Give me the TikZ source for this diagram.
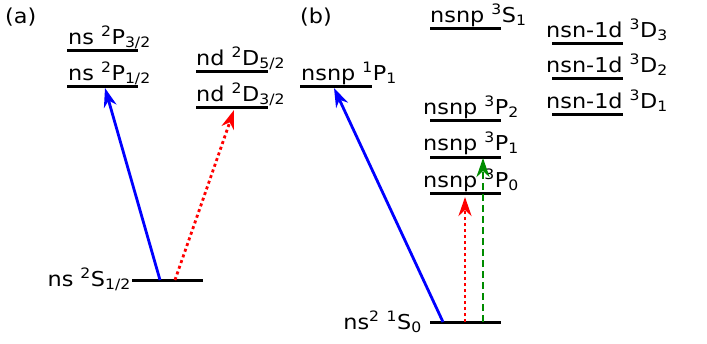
\documentclass[tikz,border=0pt]{standalone}
\usepackage{fontspec}
\setmainfont[FakeStretch=1.09]{DejaVu Sans}
\usetikzlibrary{arrows.meta}
\newcommand{\myup}[1]{\textsuperscript{#1}}
\newcommand{\mydn}[1]{\textsubscript{#1}}
\begin{document}
\begin{tikzpicture}[x=1bp,y=-1bp,
  lvl/.style={line width=3bp,black},
  lab/.style={anchor=base west,inner sep=0pt,font=\fontsize{20.5bp}{22bp}\selectfont},
  labr/.style={anchor=base east,inner sep=0pt,font=\fontsize{20.5bp}{22bp}\selectfont},
  tip/.style={-{Stealth[length=19bp,width=13bp,inset=6bp]}},
  bluearr/.style={tip,blue,line width=2.8bp},
  redarr/.style={tip,red,line width=2.8bp,dash pattern=on 3bp off 3bp},
  greenarr/.style={tip,green!55!black,line width=2.8bp,dash pattern=on 7bp off 4bp}]
\useasboundingbox (0,0) rectangle (707,343);
% (a)
\node[lab] (pa) at (5,23) {(a)};
\coordinate (p32l) at (67,50); \coordinate (p32r) at (138,50);
\coordinate (p12l) at (67,86); \coordinate (p12r) at (138,86);
\coordinate (d52l) at (196,71); \coordinate (d52r) at (268,71);
\coordinate (d32l) at (196,107); \coordinate (d32r) at (268,107);
\coordinate (s12l) at (132,280); \coordinate (s12r) at (203,280);
\draw[lvl] (p32l) -- (p32r);
\draw[lvl] (p12l) -- (p12r);
\draw[lvl] (d52l) -- (d52r);
\draw[lvl] (d32l) -- (d32r);
\draw[lvl] (s12l) -- (s12r);
\node[lab] (tp32) at (68,44) {ns \myup{2}P\mydn{3/2}};
\node[lab] (tp12) at (68,80) {ns \myup{2}P\mydn{1/2}};
\node[lab] (td52) at (196,65) {nd \myup{2}D\mydn{5/2}};
\node[lab] (td32) at (196,101) {nd \myup{2}D\mydn{3/2}};
\node[labr] (ts12) at (131,286) {ns \myup{2}S\mydn{1/2}};
\coordinate (ba0) at (160,280); \coordinate (ba1) at (105,88);
\coordinate (ra0) at (175,280); \coordinate (ra1) at (234,110);
\draw[bluearr] (ba0) -- (ba1);
\draw[redarr] (ra0) -- (ra1);
% (b)
\node[lab] (pb) at (300,23) {(b)};
\coordinate (p1l) at (300,86); \coordinate (p1r) at (372,86);
\coordinate (s1l) at (430,28); \coordinate (s1r) at (501,28);
\coordinate (d3l) at (552,43); \coordinate (d3r) at (623,43);
\coordinate (d2l) at (552,78); \coordinate (d2r) at (623,78);
\coordinate (d1l) at (552,114); \coordinate (d1r) at (623,114);
\coordinate (p2l) at (430,120); \coordinate (p2r) at (501,120);
\coordinate (p1bl) at (430,157); \coordinate (p1br) at (501,157);
\coordinate (p0l) at (430,193); \coordinate (p0r) at (501,193);
\coordinate (g0l) at (430,322); \coordinate (g0r) at (501,322);
\foreach \a/\b in {p1l/p1r,s1l/s1r,d3l/d3r,d2l/d2r,d1l/d1r,p2l/p2r,p1bl/p1br,p0l/p0r,g0l/g0r}
  \draw[lvl] (\a) -- (\b);
\node[lab] (tp1) at (301,80) {nsnp \myup{1}P\mydn{1}};
\node[lab] (ts1) at (430,22) {nsnp \myup{3}S\mydn{1}};
\node[lab] (td3) at (546,37) {nsn-1d \myup{3}D\mydn{3}};
\node[lab] (td2) at (546,72) {nsn-1d \myup{3}D\mydn{2}};
\node[lab] (td1) at (546,108) {nsn-1d \myup{3}D\mydn{1}};
\node[lab] (tp2) at (423,114) {nsnp \myup{3}P\mydn{2}};
\node[lab] (tp1b) at (423,150) {nsnp \myup{3}P\mydn{1}};
\node[lab] (tp0) at (423,187) {nsnp \myup{3}P\mydn{0}};
\node[labr] (tg0) at (422,329) {ns\myup{2} \myup{1}S\mydn{0}};
\coordinate (bb0) at (443,322); \coordinate (bb1) at (334,88);
\coordinate (rb0) at (465,322); \coordinate (rb1) at (465,197);
\coordinate (gb0) at (483,322); \coordinate (gb1) at (483,158);
\draw[bluearr] (bb0) -- (bb1);
\draw[redarr] (rb0) -- (rb1);
\draw[greenarr] (gb0) -- (gb1);
\end{tikzpicture}
\end{document}
